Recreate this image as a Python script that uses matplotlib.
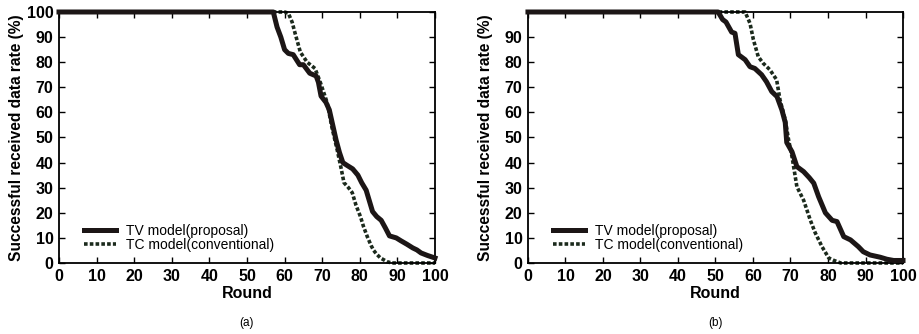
import matplotlib.pyplot as plt

plt.rcParams['font.family'] = ['Liberation Sans', 'DejaVu Sans']

# panel (a)
a_tv_x = [0, 57, 58, 59, 60, 61, 62.3, 64, 65, 66.7, 68.4, 69, 69.7, 71, 71.9, 72.8, 73.7, 74.6, 75.5, 76.5, 78.1, 79.5, 80.5, 81.7, 82.5, 83.4, 84.5, 85.7, 86.8, 87.9, 89.7, 91, 92.5, 94.1, 95.2, 96.3, 98, 100]
a_tv_y = [100, 100, 94, 90, 85, 83.5, 83, 79, 79, 75.6, 74.5, 72, 66.5, 64, 61, 55, 49, 44, 40, 39, 37.5, 35, 32, 29, 25, 20.5, 18.5, 17, 14, 10.8, 10, 8.8, 7.5, 6, 5.2, 4, 3, 2]
a_tc_x = [0, 60, 61, 62, 62.8, 64.2, 66, 68.1, 69.5, 71.3, 72.6, 74, 75, 75.8, 77, 78, 79, 80.2, 81, 82, 83, 83.7, 84.5, 85.5, 87.3, 88.5, 100]
a_tc_y = [100, 100, 99.5, 96, 91.5, 84, 80, 77.5, 72, 64, 54, 45, 38, 32, 30, 28, 23, 18.4, 14.5, 10.5, 7, 5, 3.5, 2, 0.5, 0, 0]

# panel (b)
b_tv_x = [0, 50.7, 51.9, 52.8, 54.3, 55.2, 56.1, 57.9, 59.2, 60.5, 62.3, 63.6, 65, 66.4, 67.7, 68.6, 69, 70.4, 71.7, 73.5, 75, 76.2, 77.5, 79.3, 80.2, 81.1, 82.4, 84.2, 86, 88.1, 89.4, 91.2, 93.9, 95.7, 97.5, 100]
b_tv_y = [100, 100, 97, 96, 92, 91.5, 83, 81, 78.2, 77.5, 75, 72.2, 68.3, 66.3, 61, 56, 48, 44.3, 38.4, 36.4, 34, 31.8, 26.4, 20, 18.5, 17, 16.5, 10.5, 9.2, 6.5, 4.5, 3.2, 2.3, 1.5, 1, 1]
b_tc_x = [0, 57.9, 59.2, 60.1, 61.4, 62.7, 64.5, 66.3, 67.2, 68.6, 69.5, 70.4, 71.7, 73.5, 75.3, 76.6, 78.4, 80.2, 81.6, 83.4, 100]
b_tc_y = [100, 100, 95.5, 89, 82.2, 79.6, 77, 73, 65, 57, 49, 42.4, 30.4, 25, 17, 12, 6.5, 2, 1, 0, 0]

x_ticks = [0, 10, 20, 30, 40, 50, 60, 70, 80, 90, 100]
y_ticks_a = [0, 10, 20, 30, 40, 50, 60, 70, 80, 90, 100]
y_ticks_b = [0, 10, 20, 30, 40, 50, 60, 70, 80, 90]

labels = ['TV model(proposal)', 'TC model(conventional)']

fig = plt.figure(figsize=(9.19, 3.34), dpi=100)
ax_a = fig.add_axes([0.0642, 0.2126, 0.4091, 0.7515])
ax_b = fig.add_axes([0.5745, 0.2126, 0.4081, 0.7515])

panels = [
    (ax_a, a_tv_x, a_tv_y, a_tc_x, a_tc_y, y_ticks_a, '(a)'),
    (ax_b, b_tv_x, b_tv_y, b_tc_x, b_tc_y, y_ticks_b, '(b)'),
]

for ax, tvx, tvy, tcx, tcy, yt, tag in panels:
    ax.plot(tvx, tvy, color='#1c1616', lw=3.6, solid_joinstyle='round',
            clip_on=False, zorder=3, label=labels[0])
    ax.plot(tcx, tcy, color='#1b2a1c', lw=2.6, linestyle=(0, (1, 0.6)),
            clip_on=False, zorder=2, label=labels[1])
    ax.set_xlim(0, 100)
    ax.set_ylim(0, 100)
    ax.set_xticks(x_ticks)
    ax.set_yticks(yt)
    ax.tick_params(direction='in', length=4, width=1, top=True, right=True,
                   labelsize=11.5, pad=4)
    for lab in ax.get_xticklabels() + ax.get_yticklabels():
        lab.set_fontweight('bold')
    for sp in ax.spines.values():
        sp.set_linewidth(1.3)
    ax.set_xlabel('Round', fontsize=11.5, fontweight='bold', labelpad=2)
    ax.set_ylabel('Successful received data rate (%)', fontsize=11.2,
                  fontweight='bold')
    ax.yaxis.set_label_coords(-0.093, 0.5)
    ax.legend(loc='lower left', bbox_to_anchor=(0.04, 0.005), frameon=False,
              fontsize=10, handlelength=2.3, handletextpad=0.75,
              labelspacing=0.0, borderpad=0.2)
    ax.text(0.5, -0.24, tag, transform=ax.transAxes, ha='center', va='center',
            fontsize=8.5)

plt.savefig('out.png', dpi=100)
